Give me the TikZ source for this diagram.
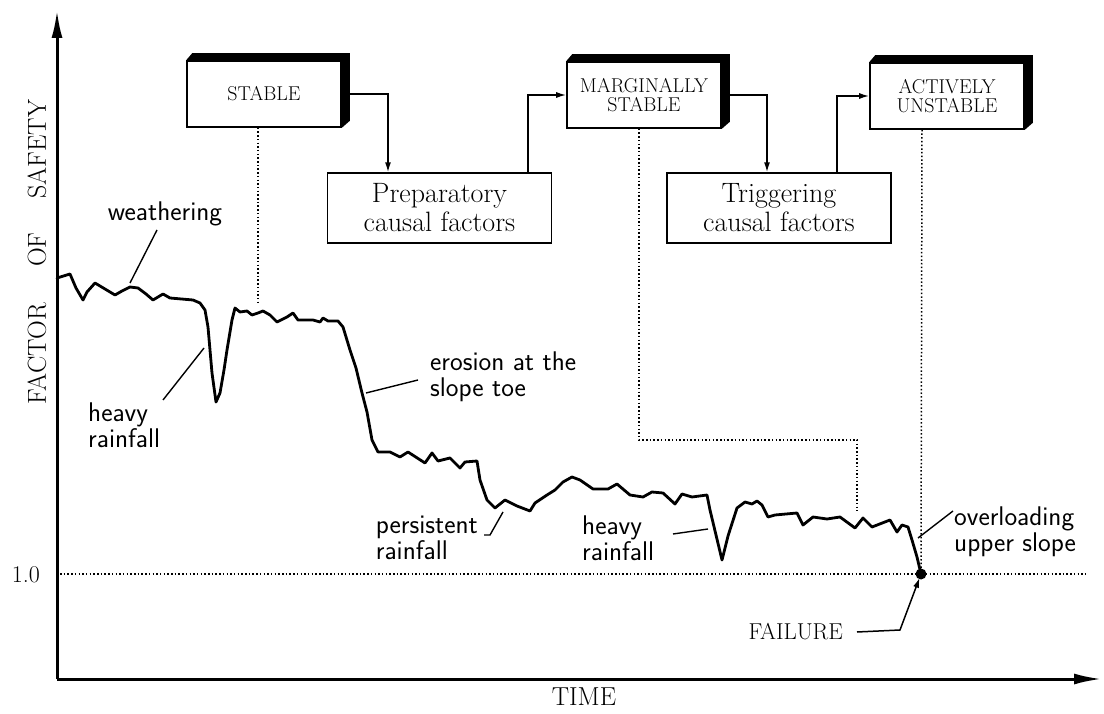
\documentclass[tikz,border=0pt]{standalone}
\usepackage{fontspec}
\usetikzlibrary{arrows.meta,backgrounds}
\newcommand\extrudebox[1]{%
  \begin{scope}[on background layer]
    \fill (#1.north west) -- ++(6,-7) -- ([shift={(8,-7)}]#1.north east)
      -- ([shift={(8,-7)}]#1.south east) -- (#1.south east) -- (#1.north east) -- cycle;
  \end{scope}}
\begin{document}
\begin{tikzpicture}[x=1pt,y=-1pt,
  state/.style={draw,line width=1.6pt,fill=white,minimum width=154pt,minimum height=66pt,
    inner sep=0pt,align=center,font=\fontsize{20}{19.5}\selectfont},
  factor/.style={draw,line width=1.4pt,fill=white,minimum width=224pt,minimum height=70pt,
    inner sep=0pt,align=center,font=\fontsize{28}{29}\selectfont},
  conn/.style={line width=1.5pt,-{Latex[length=10pt,width=6pt]}},
  guide/.style={line width=1.5pt,dash pattern=on 1.5pt off 2.2pt},
  curve/.style={line width=2.8pt,line join=round,line cap=round},
  lead/.style={line width=1.4pt},
  lab/.style={font=\sffamily\fontsize{27}{26}\selectfont,align=left,inner sep=0pt},
  serifl/.style={font=\fontsize{23}{24}\selectfont,inner sep=0pt},
  axis/.style={line width=3pt,-{Latex[length=28pt,width=11pt]}}]
\useasboundingbox (0,0) rectangle (1104,714);

% axes
\coordinate (origin) at (57,679);
\coordinate (ytip) at (57,10);
\coordinate (xtip) at (1102,679);
\draw[axis] (origin) -- (ytip);
\draw[axis] (origin) -- (xtip);
\node[serifl,font=\fontsize{26}{26}\selectfont,rotate=90] (ylab) at (37,252)
  {FACTOR\hspace{36pt}OF\hspace{34pt}SAFETY};
\node[serifl,font=\fontsize{26}{26}\selectfont] (xlab) at (584,697) {TIME};
\node[serifl,font=\fontsize{24}{24}\selectfont] (one) at (26,575) {1.0};

% state boxes
\node[state] (stable) at (264,94) {STABLE};
\node[state] (marg) at (644,95) {MARGINALLY\\STABLE};
\node[state] (act) at (947,96) {ACTIVELY\\UNSTABLE};
\extrudebox{stable}
\extrudebox{marg}
\extrudebox{act}

% factor boxes
\node[factor] (prep) at (439.5,208) {Preparatory\\causal factors};
\node[factor] (trig) at (779,208) {Triggering\\causal factors};

% flow connectors
\draw[conn] (stable.east) -| (388,0 |- prep.north);
\draw[conn] (528,0 |- prep.north) |- (marg.west);
\draw[conn] (marg.east) -| (767,0 |- trig.north);
\draw[conn] (837,0 |- trig.north) |- (act.west);

% failure point and reference line
\coordinate (fail) at (921,574);
\coordinate (lineL) at (60,574);
\coordinate (lineR) at (1088,574);
\draw[guide] (lineL) -- (lineR);

% guide lines
\coordinate (g1) at (258,305);
\coordinate (g2a) at (639,440);
\coordinate (g2b) at (857,440);
\coordinate (g2) at (857,511);
\draw[guide] (258,0 |- stable.south) -- (g1);
\draw[guide] (639,0 |- marg.south) -- (g2a) -- (g2b) -- (g2);
\draw[guide] (922,0 |- act.south) -- (fail);

% factor of safety curve
\draw[curve] plot coordinates {
(57,278) (70,274) (76,288) (83,300) (87,292) (95,283) (105,289) (115,295) (122,291)
(130,287) (138,288) (146,294) (153,300) (158,297) (163,294) (170,298) (193,300)
(200,303) (205,310) (208,327) (210,350) (212,373) (216,402) (220,393) (224,370)
(227,350) (232,320) (235,308) (240,312) (247,311) (252,315) (258,313) (263,311)
(270,315) (277,322) (287,317) (293,313) (298,320) (313,320) (320,322) (323,318)
(328,321) (338,321) (343,327) (350,350) (356,368) (362,393) (367,412) (372,440)
(378,452) (390,452) (400,457) (408,452) (425,463) (432,453) (438,461) (450,458)
(460,468) (465,462) (477,461) (480,480) (487,500) (495,508) (505,500) (517,506)
(530,511) (535,503) (547,495) (555,490) (563,482) (572,477) (580,480) (593,489)
(608,489) (617,484) (630,495) (643,497) (652,492) (663,493) (675,504) (682,494)
(692,497) (707,495) (710,510) (716,535) (722,560) (728,536) (737,508) (745,502)
(752,504) (757,501) (762,505) (768,517) (775,515) (797,513) (803,525) (813,517)
(827,519) (840,517) (855,528) (863,518) (872,527) (890,520) (897,532) (902,525)
(908,527) (912,540) (917,557) (921,574)};
\fill (fail) circle (5.5pt);

% annotations
\node[lab] (wlab) at (165,214) {weathering};
\coordinate (w1) at (157,230);
\coordinate (w2) at (130,283);
\draw[lead] (w1) -- (w2);

\node[lab,anchor=west] (hr1) at (88,425) {heavy\\rainfall};
\coordinate (h1a) at (163,400);
\coordinate (h1b) at (204,348);
\draw[lead] (h1a) -- (h1b);

\node[lab,anchor=west] (eros) at (430,377) {erosion at the\\slope toe};
\coordinate (e1) at (418,380);
\coordinate (e2) at (366,393);
\draw[lead] (e1) -- (e2);

\node[lab,anchor=east] (pers) at (478,538) {persistent\\rainfall};
\coordinate (p1) at (484,535);
\coordinate (p2) at (490,535);
\coordinate (p3) at (503,512);
\draw[lead] (p1) -- (p2) -- (p3);

\node[lab,anchor=west] (hr2) at (582,538) {heavy\\rainfall};
\coordinate (h2a) at (673,534);
\coordinate (h2b) at (708,529);
\draw[lead] (h2a) -- (h2b);

\node[lab,anchor=west] (over) at (954,532) {overloading\\upper slope};
\coordinate (o1) at (918,538);
\coordinate (o2) at (953,511);
\draw[lead] (o1) -- (o2);

\node[serifl,anchor=east] (flab) at (843,632) {FAILURE};
\coordinate (f1) at (900,630);
\draw[conn,shorten >=4pt] ([xshift=14pt]flab.east) -- (f1) -- (fail);
\end{tikzpicture}
\end{document}
